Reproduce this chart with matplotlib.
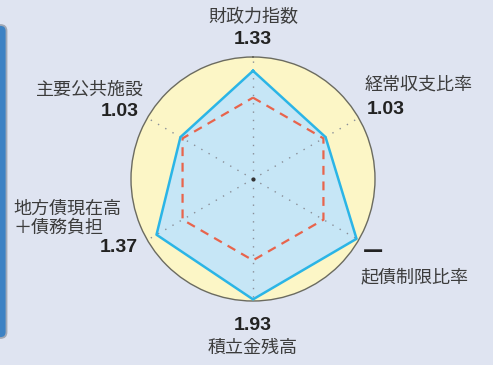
import numpy as np
import matplotlib
matplotlib.use("Agg")
import matplotlib.pyplot as plt
from matplotlib.patches import FancyBboxPatch

plt.rcParams['font.family'] = ['Noto Sans CJK JP', 'DejaVu Sans']

categories = ['財政力指数', '経常収支比率', '起債制限比率', '積立金残高', '地方債現在高\n＋債務負担', '主要公共施設']
value_labels = ['1.33', '1.03', '—', '1.93', '1.37', '1.03']
# plotted radius (values above the chart maximum are drawn at the rim)
plot_values = [1.33, 1.03, 1.47, 1.48, 1.37, 1.03]
reference = [1.0, 1.0, 1.0, 1.0, 1.0, 1.0]
r_max = 1.5

W, H = 493, 365
fig = plt.figure(figsize=(W / 100, H / 100), dpi=100)
bg = '#dfe4f1'
fig.patch.set_facecolor(bg)

# background axes in pixel coordinates
bax = fig.add_axes([0, 0, 1, 1])
bax.set_xlim(0, W)
bax.set_ylim(H, 0)
bax.axis('off')
bax.add_patch(FancyBboxPatch((-20, 25), 26.5, 313, boxstyle='round,pad=0,rounding_size=6',
                             facecolor='#3d82c4', edgecolor='#a0a8b6', linewidth=1.3))

# radar axes
cx, cy, R = 253, 179, 122
ax = fig.add_axes([(cx - R) / W, (H - cy - R) / H, 2 * R / W, 2 * R / H], projection='polar')
ax.set_theta_offset(np.pi / 2)
ax.set_theta_direction(-1)
ax.set_ylim(0, r_max)
ax.set_facecolor('#fcf6c6')
ax.spines['polar'].set_edgecolor('#6b6b60')
ax.spines['polar'].set_linewidth(1.0)
ax.grid(False)
ax.set_xticks([])
ax.set_yticks([])

n = len(categories)
angles = np.arange(n) * 2 * np.pi / n
closed = np.append(angles, angles[0])

for a in angles:
    ax.plot([a, a], [0, r_max], color='#8a8f98', linewidth=1.0, linestyle=(0, (1, 5)), zorder=3)
ax.plot([0], [0], marker='o', markersize=2, color='#333333', zorder=4)

pv = np.append(plot_values, plot_values[0])
ax.fill(closed, pv, color='#c6e6f6', zorder=1)
ax.plot(closed, pv, color='#2bb5e6', linewidth=1.8, zorder=5)
rv = np.append(reference, reference[0])
ax.plot(closed, rv, color='#e8644c', linewidth=1.6, linestyle=(0, (4, 3)), zorder=4)

lab_kw = dict(fontsize=13, color='#3c3c3c')
num_kw = dict(fontsize=14, fontweight='bold', color='#222222', family=['Liberation Sans', 'DejaVu Sans'])

def T(x, y, s, ha, kw):
    bax.text(x, y, s, ha=ha, va='center', **kw)

T(253, 17, categories[0], 'center', lab_kw)
T(253, 39, value_labels[0], 'center', num_kw)
T(365, 85, categories[1], 'left', lab_kw)
T(367, 109, value_labels[1], 'left', num_kw)
T(363, 250, value_labels[2], 'left', dict(fontsize=16, color='#222222', fontweight='bold',
                                          family=['Noto Sans CJK JP', 'DejaVu Sans']))
T(361, 277, categories[2], 'left', lab_kw)
T(253, 325, value_labels[3], 'center', num_kw)
T(253, 348, categories[3], 'center', lab_kw)
T(13, 218, categories[4], 'left', dict(linespacing=1.05, **lab_kw))
T(138, 247, value_labels[4], 'right', num_kw)
T(144, 90, categories[5], 'right', lab_kw)
T(139, 111, value_labels[5], 'right', num_kw)

fig.savefig('out.png', dpi=100, facecolor=bg)
